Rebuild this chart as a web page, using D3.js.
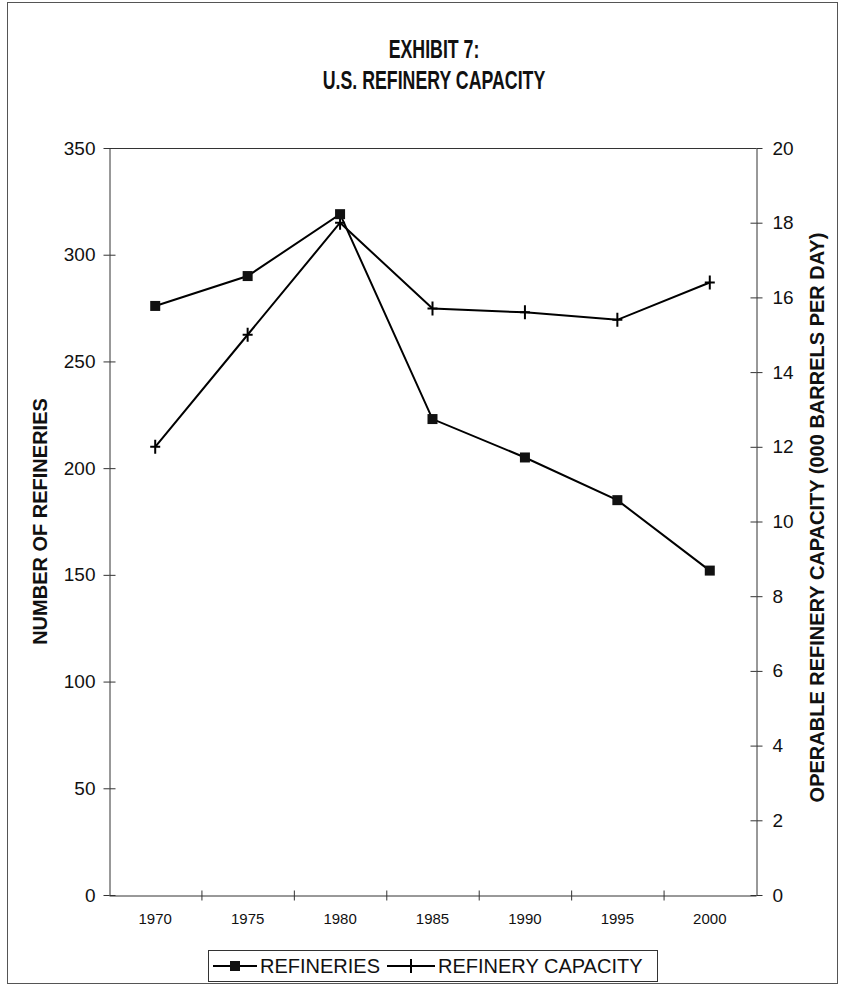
<!DOCTYPE html>
<html>
<head>
<meta charset="utf-8">
<script src="https://cdn.jsdelivr.net/npm/d3@7"></script>
<style>
  html, body { margin: 0; padding: 0; background: #fff; }
  svg { display: block; }
  text { font-family: Arial, "Liberation Sans", sans-serif; fill: #111; }
</style>
</head>
<body>
<svg id="chart" width="841" height="987"></svg>
<script>
// Refinery counts and operable capacity by year
const years = ["1970", "1975", "1980", "1985", "1990", "1995", "2000"];
const refineries = [276, 290, 319, 223, 205, 185, 152];
const capacity = [12.0, 15.0, 18.0, 15.7, 15.6, 15.4, 16.4];
const leftTicks = [0, 50, 100, 150, 200, 250, 300, 350];
const rightTicks = [0, 2, 4, 6, 8, 10, 12, 14, 16, 18, 20];

const svg = d3.select("#chart");
const plot = { left: 109, right: 756, top: 148, bottom: 895 };

// outer frame
svg.append("rect")
  .attr("x", 7.5).attr("y", 2.5)
  .attr("width", 830).attr("height", 981)
  .attr("fill", "none").attr("stroke", "#555").attr("stroke-width", 1);

// title, set in a condensed bold face
const title = svg.append("text")
  .attr("transform", "translate(434,0) scale(0.67,1)")
  .attr("text-anchor", "middle")
  .style("font-weight", "bold")
  .style("font-size", "26.5px");
title.append("tspan").attr("x", 0).attr("y", 58).text("EXHIBIT 7:");
title.append("tspan").attr("x", 0).attr("y", 89).text("U.S. REFINERY CAPACITY");

const x = d3.scaleBand().domain(years).range([plot.left, plot.right]).paddingInner(0).paddingOuter(0);
const cx = d => x(d) + x.bandwidth() / 2;
const yL = d3.scaleLinear().domain([0, 350]).range([plot.bottom, plot.top]);
const yR = d3.scaleLinear().domain([0, 20]).range([plot.bottom, plot.top]);

const axisColor = "#333";

// plot top border
svg.append("line")
  .attr("x1", plot.left).attr("x2", plot.right)
  .attr("y1", plot.top + 0.5).attr("y2", plot.top + 0.5)
  .attr("stroke", axisColor).attr("stroke-width", 1);

// left axis with crossing ticks
const gL = svg.append("g")
  .attr("transform", `translate(${plot.left + 0.5},0)`)
  .call(d3.axisLeft(yL).tickValues(leftTicks).tickSizeInner(6).tickSizeOuter(0).tickPadding(8));
gL.selectAll(".tick").append("line").attr("x1", 0).attr("x2", 6).attr("stroke", axisColor);
gL.selectAll(".tick text").style("font-size", "19px").attr("fill", "#111");

// right axis with crossing ticks
const gR = svg.append("g")
  .attr("transform", `translate(${plot.right + 0.5},0)`)
  .call(d3.axisRight(yR).tickValues(rightTicks).tickSizeInner(6).tickSizeOuter(0).tickPadding(10));
gR.selectAll(".tick").append("line").attr("x1", 0).attr("x2", -6).attr("stroke", axisColor);
gR.selectAll(".tick text").style("font-size", "19px").attr("fill", "#111");

// bottom axis: labels centred on categories
const gB = svg.append("g")
  .attr("transform", `translate(0,${plot.bottom + 0.5})`)
  .call(d3.axisBottom(x).tickSize(0).tickSizeOuter(0).tickPadding(18));
gB.selectAll(".tick text").style("font-size", "15px").attr("fill", "#111");
// category boundary ticks
const boundaries = years.map(d => x(d)).concat([x(years[years.length - 1]) + x.bandwidth()]);
gB.selectAll(".bound").data(boundaries.slice(1, -1)).enter().append("line")
  .attr("class", "bound")
  .attr("x1", d => d + 0.5).attr("x2", d => d + 0.5)
  .attr("y1", -5).attr("y2", 5)
  .attr("stroke", axisColor);

svg.selectAll(".domain").attr("stroke", axisColor);
svg.selectAll(".tick line").attr("stroke", axisColor);

// axis titles
svg.append("text")
  .attr("transform", `translate(47,${(plot.top + plot.bottom) / 2}) rotate(-90)`)
  .attr("text-anchor", "middle")
  .style("font-weight", "bold").style("font-size", "20px")
  .text("NUMBER OF REFINERIES");
svg.append("text")
  .attr("transform", `translate(824,${(plot.top + plot.bottom) / 2 - 4}) rotate(-90)`)
  .attr("text-anchor", "middle")
  .style("font-weight", "bold").style("font-size", "20px")
  .text("OPERABLE REFINERY CAPACITY (000 BARRELS PER DAY)");

// series lines
const lineL = d3.line().x((d, i) => cx(years[i])).y(d => yL(d));
const lineR = d3.line().x((d, i) => cx(years[i])).y(d => yR(d));

svg.append("path").datum(capacity)
  .attr("d", lineR).attr("fill", "none").attr("stroke", "#000").attr("stroke-width", 2);
svg.append("path").datum(refineries)
  .attr("d", lineL).attr("fill", "none").attr("stroke", "#000").attr("stroke-width", 2);

// markers
const plusPath = "M-5,0H5M0,-7V7";
svg.selectAll(".cap").data(capacity).enter().append("path")
  .attr("class", "cap")
  .attr("transform", (d, i) => `translate(${cx(years[i])},${yR(d)})`)
  .attr("d", plusPath).attr("stroke", "#000").attr("stroke-width", 2).attr("fill", "none");
svg.selectAll(".ref").data(refineries).enter().append("rect")
  .attr("class", "ref")
  .attr("x", (d, i) => cx(years[i]) - 5).attr("y", d => yL(d) - 5)
  .attr("width", 10).attr("height", 10)
  .attr("fill", "#111");

// legend
const lg = svg.append("g");
lg.append("rect").attr("x", 208.5).attr("y", 950.5).attr("width", 449).attr("height", 31)
  .attr("fill", "#fff").attr("stroke", "#333").attr("stroke-width", 1);
const ly = 966;
lg.append("line").attr("x1", 213).attr("x2", 257).attr("y1", ly).attr("y2", ly).attr("stroke", "#000").attr("stroke-width", 2);
lg.append("rect").attr("x", 230).attr("y", ly - 5).attr("width", 10).attr("height", 10).attr("fill", "#111");
lg.append("text").attr("x", 260).attr("y", ly + 7).style("font-size", "20px").text("REFINERIES");
lg.append("line").attr("x1", 387).attr("x2", 435).attr("y1", ly).attr("y2", ly).attr("stroke", "#000").attr("stroke-width", 2);
lg.append("path").attr("transform", `translate(411,${ly})`).attr("d", plusPath).attr("stroke", "#000").attr("stroke-width", 2);
lg.append("text").attr("x", 438).attr("y", ly + 7).style("font-size", "20px").text("REFINERY CAPACITY");
</script>
</body>
</html>
